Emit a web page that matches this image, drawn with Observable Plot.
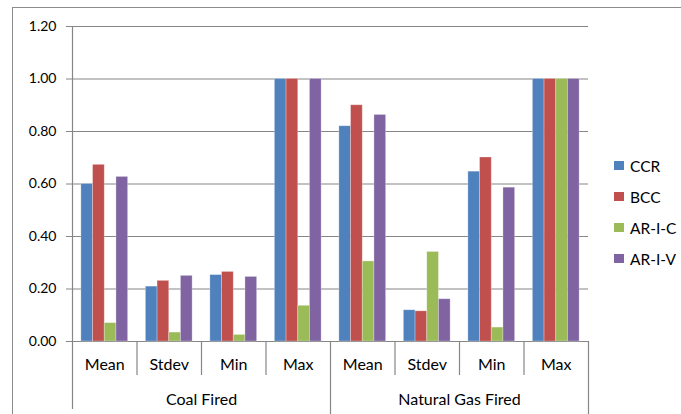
<!DOCTYPE html>
<html>
<head>
<meta charset="utf-8">
<script src="https://cdn.jsdelivr.net/npm/d3@7"></script>
<script src="https://cdn.jsdelivr.net/npm/@observablehq/plot@0.6"></script>
<style>
  html, body { margin: 0; padding: 0; background: #fff; overflow: hidden; width: 681px; height: 414px; }
  #wrap { position: relative; width: 681px; height: 414px; }
  #border { position: absolute; left: 12px; top: 7px; width: 720px; height: 440px; border: 1px solid #8c8c8c; box-sizing: border-box; }
  #chart { position: absolute; left: 0; top: 0; }
  #legend { position: absolute; left: 614px; top: 150px; font-family: Lato, "Open Sans", sans-serif; font-size: 15.5px; color: #000; }
  #legend .item { display: flex; align-items: center; height: 31px; }
  #legend .sw { width: 10px; height: 9px; margin-right: 6px; }
</style>
</head>
<body>
<div id="wrap">
  <div id="border"></div>
  <div id="chart"></div>
  <div id="legend"></div>
</div>
<script>
// ---- data ----
const groups = ["Coal Fired", "Natural Gas Fired"];
const stats = ["Mean", "Stdev", "Min", "Max"];
const series = ["CCR", "BCC", "AR-I-C", "AR-I-V"];
const colors = ["#4F81BD", "#C0504D", "#9BBB59", "#8064A2"];
// values per series, across 8 categories (Coal: Mean, Stdev, Min, Max; Natural Gas: Mean, Stdev, Min, Max)
const CCR    = [0.600, 0.209, 0.253, 1.000, 0.820, 0.119, 0.647, 1.000];
const BCC    = [0.673, 0.231, 0.265, 1.000, 0.900, 0.115, 0.701, 1.000];
const ARIC   = [0.070, 0.034, 0.025, 0.136, 0.305, 0.341, 0.053, 1.000];
const ARIV   = [0.627, 0.250, 0.246, 1.000, 0.863, 0.161, 0.586, 1.000];
const yTicks = [0, 0.2, 0.4, 0.6, 0.8, 1.0, 1.2];

// ---- build table ----
const valuesBySeries = [CCR, BCC, ARIC, ARIV];
const categories = [];
groups.forEach((g, gi) => stats.forEach((s, si) => categories.push({group: g, stat: s, index: gi * stats.length + si})));
const pad = 0.1375, bw = (1 - 2 * pad) / series.length;
const bars = [];
categories.forEach(c => series.forEach((s, j) => {
  const x1 = c.index + pad + j * bw;
  bars.push({series: s, stat: c.stat, group: c.group, x1, x2: x1 + bw, value: valuesBySeries[j][c.index]});
}));
const n = categories.length;
const catSeps = d3.range(1, n).filter(i => i % stats.length !== 0);
const groupSeps = d3.range(stats.length, n + 1, stats.length);
const groupLabels = groups.map((g, gi) => ({group: g, x: gi * stats.length + stats.length / 2}));

const gray = "#868686";
const plot = Plot.plot({
  width: 681,
  height: 414,
  marginLeft: 72,
  marginRight: 93,
  marginTop: 26,
  marginBottom: 73,
  style: {fontFamily: "Lato, 'Open Sans', sans-serif", fontSize: "14px", color: "#000", background: "transparent", overflow: "visible"},
  x: {domain: [0, n], axis: null},
  y: {domain: [0, 1.2], ticks: yTicks, tickFormat: d3.format(".2f"), tickSize: 6, tickPadding: 10, label: null, line: false},
  color: {domain: series, range: colors},
  marks: [
    Plot.ruleY(yTicks, {stroke: gray, strokeWidth: 1.2}),
    Plot.rectY(bars, {x1: "x1", x2: "x2", y: "value", fill: "series", stroke: "#fff", strokeOpacity: 0.35, strokeWidth: 0.8}),
    Plot.ruleX([0], {y1: 1.2, y2: 0, stroke: gray, strokeWidth: 1.2, insetBottom: -68}),
    Plot.ruleX(catSeps, {y1: 0, y2: 0, stroke: gray, strokeWidth: 1.2, insetBottom: -34}),
    Plot.ruleX(groupSeps, {y1: 0, y2: 0, stroke: gray, strokeWidth: 1.2, insetBottom: -76}),
    Plot.text(categories, {x: d => d.index + 0.5, y: () => 0, text: "stat", dy: 23, fill: "#000", fontSize: 16}),
    Plot.text(groupLabels, {x: "x", y: () => 0, text: "group", dy: 58, fill: "#000", fontSize: 16})
  ]
});
plot.querySelectorAll("[aria-label='y-axis'] line, [aria-label='y-axis tick'] line, [aria-label='y-axis tick'] path").forEach(el => el.setAttribute("stroke", gray));
document.getElementById("chart").appendChild(plot);

const legend = document.getElementById("legend");
series.forEach((s, i) => {
  const item = document.createElement("div");
  item.className = "item";
  const sw = document.createElement("div");
  sw.className = "sw";
  sw.style.background = colors[i];
  const t = document.createElement("span");
  t.textContent = s;
  item.appendChild(sw);
  item.appendChild(t);
  legend.appendChild(item);
});
</script>
</body>
</html>
